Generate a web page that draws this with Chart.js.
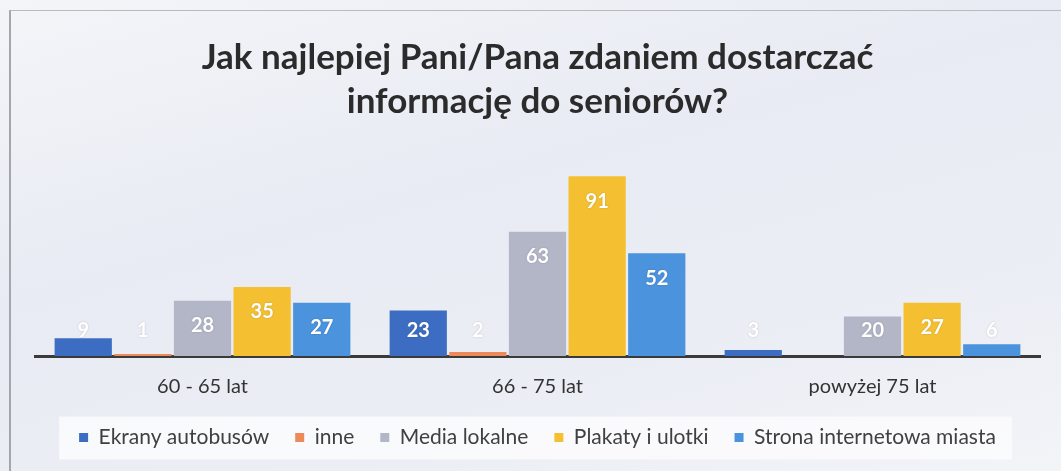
<!DOCTYPE html>
<html>
<head>
<meta charset="utf-8">
<script src="https://cdn.jsdelivr.net/npm/chart.js@4.4.0/dist/chart.umd.min.js"></script>
<style>
  html, body { margin: 0; padding: 0; }
  body {
    width: 1061px; height: 471px; overflow: hidden; position: relative;
    background: linear-gradient(165deg, #f4f5f9 0%, #e8ebf3 40%, #eceef5 75%, #f3f4f8 100%);
  }
  #ramka { position: absolute; left: 9px; top: 10px; width: 1070px; height: 480px;
    border-left: 2px solid #a4a6ad; border-top: 1px solid #b8bac0; }
  #wrap { position: absolute; left: 0; top: 0; width: 1061px; height: 471px; }
</style>
</head>
<body>
<div id="ramka"></div>
<div id="wrap"><canvas id="grafico" width="1061" height="471"></canvas></div>
<script>
const kategorie = ['60 - 65 lat', '66 - 75 lat', 'powyżej 75 lat'];
const serie = ['Ekrany autobusów', 'inne', 'Media lokalne', 'Plakaty i ulotki', 'Strona internetowa miasta'];
const ekranyAutobusow = [9, 23, 3];
const inne = [1, 2, 0];
const mediaLokalne = [28, 63, 20];
const plakatyIUlotki = [35, 91, 27];
const stronaInternetowa = [27, 52, 6];
const kolory = ['#3d6dc2', '#ec8a5a', '#b2b6c7', '#f4c032', '#4b93dc'];

const wartosci = [ekranyAutobusow, inne, mediaLokalne, plakatyIUlotki, stronaInternetowa];
const FONT = 'Lato, "Open Sans", sans-serif';

// jasne tło pod legendą
const tloLegendy = {
    id: 'tloLegendy',
    beforeDraw(chart) {
        const boxy = chart.legend.legendHitBoxes;
        if (!boxy || !boxy.length) return;
        const lewo = Math.min(...boxy.map(b => b.left)) - 20;
        const prawo = Math.max(...boxy.map(b => b.left + b.width)) + 16;
        const srodek = boxy[0].top + boxy[0].height / 2;
        const ctx = chart.ctx;
        ctx.save();
        ctx.fillStyle = 'rgba(252,252,253,0.85)';
        ctx.fillRect(lewo, srodek - 21, prawo - lewo, 43);
        ctx.restore();
    }
};

// etykiety danych w środku słupka, przy górnej krawędzi
const etykiety = {
    id: 'etykiety',
    afterDatasetsDraw(chart) {
        const ctx = chart.ctx;
        const baza = chart.scales.y.getPixelForValue(0);
        ctx.save();
        ctx.font = 'bold 20px ' + FONT;
        ctx.fillStyle = '#ffffff';
        ctx.textAlign = 'center';
        ctx.textBaseline = 'middle';
        ctx.shadowColor = 'rgba(0,0,0,0.2)';
        ctx.shadowBlur = 2;
        chart.data.datasets.forEach((ds, i) => {
            chart.getDatasetMeta(i).data.forEach((bar, j) => {
                const v = ds.data[j];
                if (!v) return;
                const y = Math.min(bar.y + 25, baza - 25);
                ctx.fillText(String(v), bar.x, y);
            });
        });
        ctx.restore();
    }
};

new Chart(document.getElementById('grafico').getContext('2d'), {
    type: 'bar',
    data: {
        labels: kategorie,
        datasets: serie.map((nazwa, i) => ({
            label: nazwa,
            data: wartosci[i],
            backgroundColor: kolory[i],
            borderWidth: 0,
            barPercentage: 0.96,
            categoryPercentage: 0.89
        }))
    },
    options: {
        responsive: false,
        animation: false,
        layout: { padding: { left: 35, right: 21, top: 0, bottom: 13 } },
        plugins: {
            title: {
                display: true,
                text: ['Jak najlepiej Pani/Pana zdaniem dostarczać', 'informację do seniorów?'],
                color: '#2b2b2b',
                font: { family: FONT, size: 35, weight: 'bold', lineHeight: 1.28 },
                padding: { top: 35, bottom: 34 }
            },
            legend: {
                position: 'bottom',
                labels: {
                    color: '#404040',
                    font: { family: FONT, size: 21 },
                    boxWidth: 9,
                    boxHeight: 9,
                    padding: 26
                }
            },
            tooltip: { enabled: false }
        },
        scales: {
            x: {
                grid: { display: false, drawTicks: false },
                border: { display: true, color: '#3a3a3a', width: 3 },
                ticks: { color: '#333333', font: { family: FONT, size: 20 }, padding: 19 },
                afterFit(scale) { scale.height = 45; }
            },
            y: {
                display: false,
                min: 0,
                max: 100
            }
        }
    },
    plugins: [tloLegendy, etykiety]
});
</script>
</body>
</html>
